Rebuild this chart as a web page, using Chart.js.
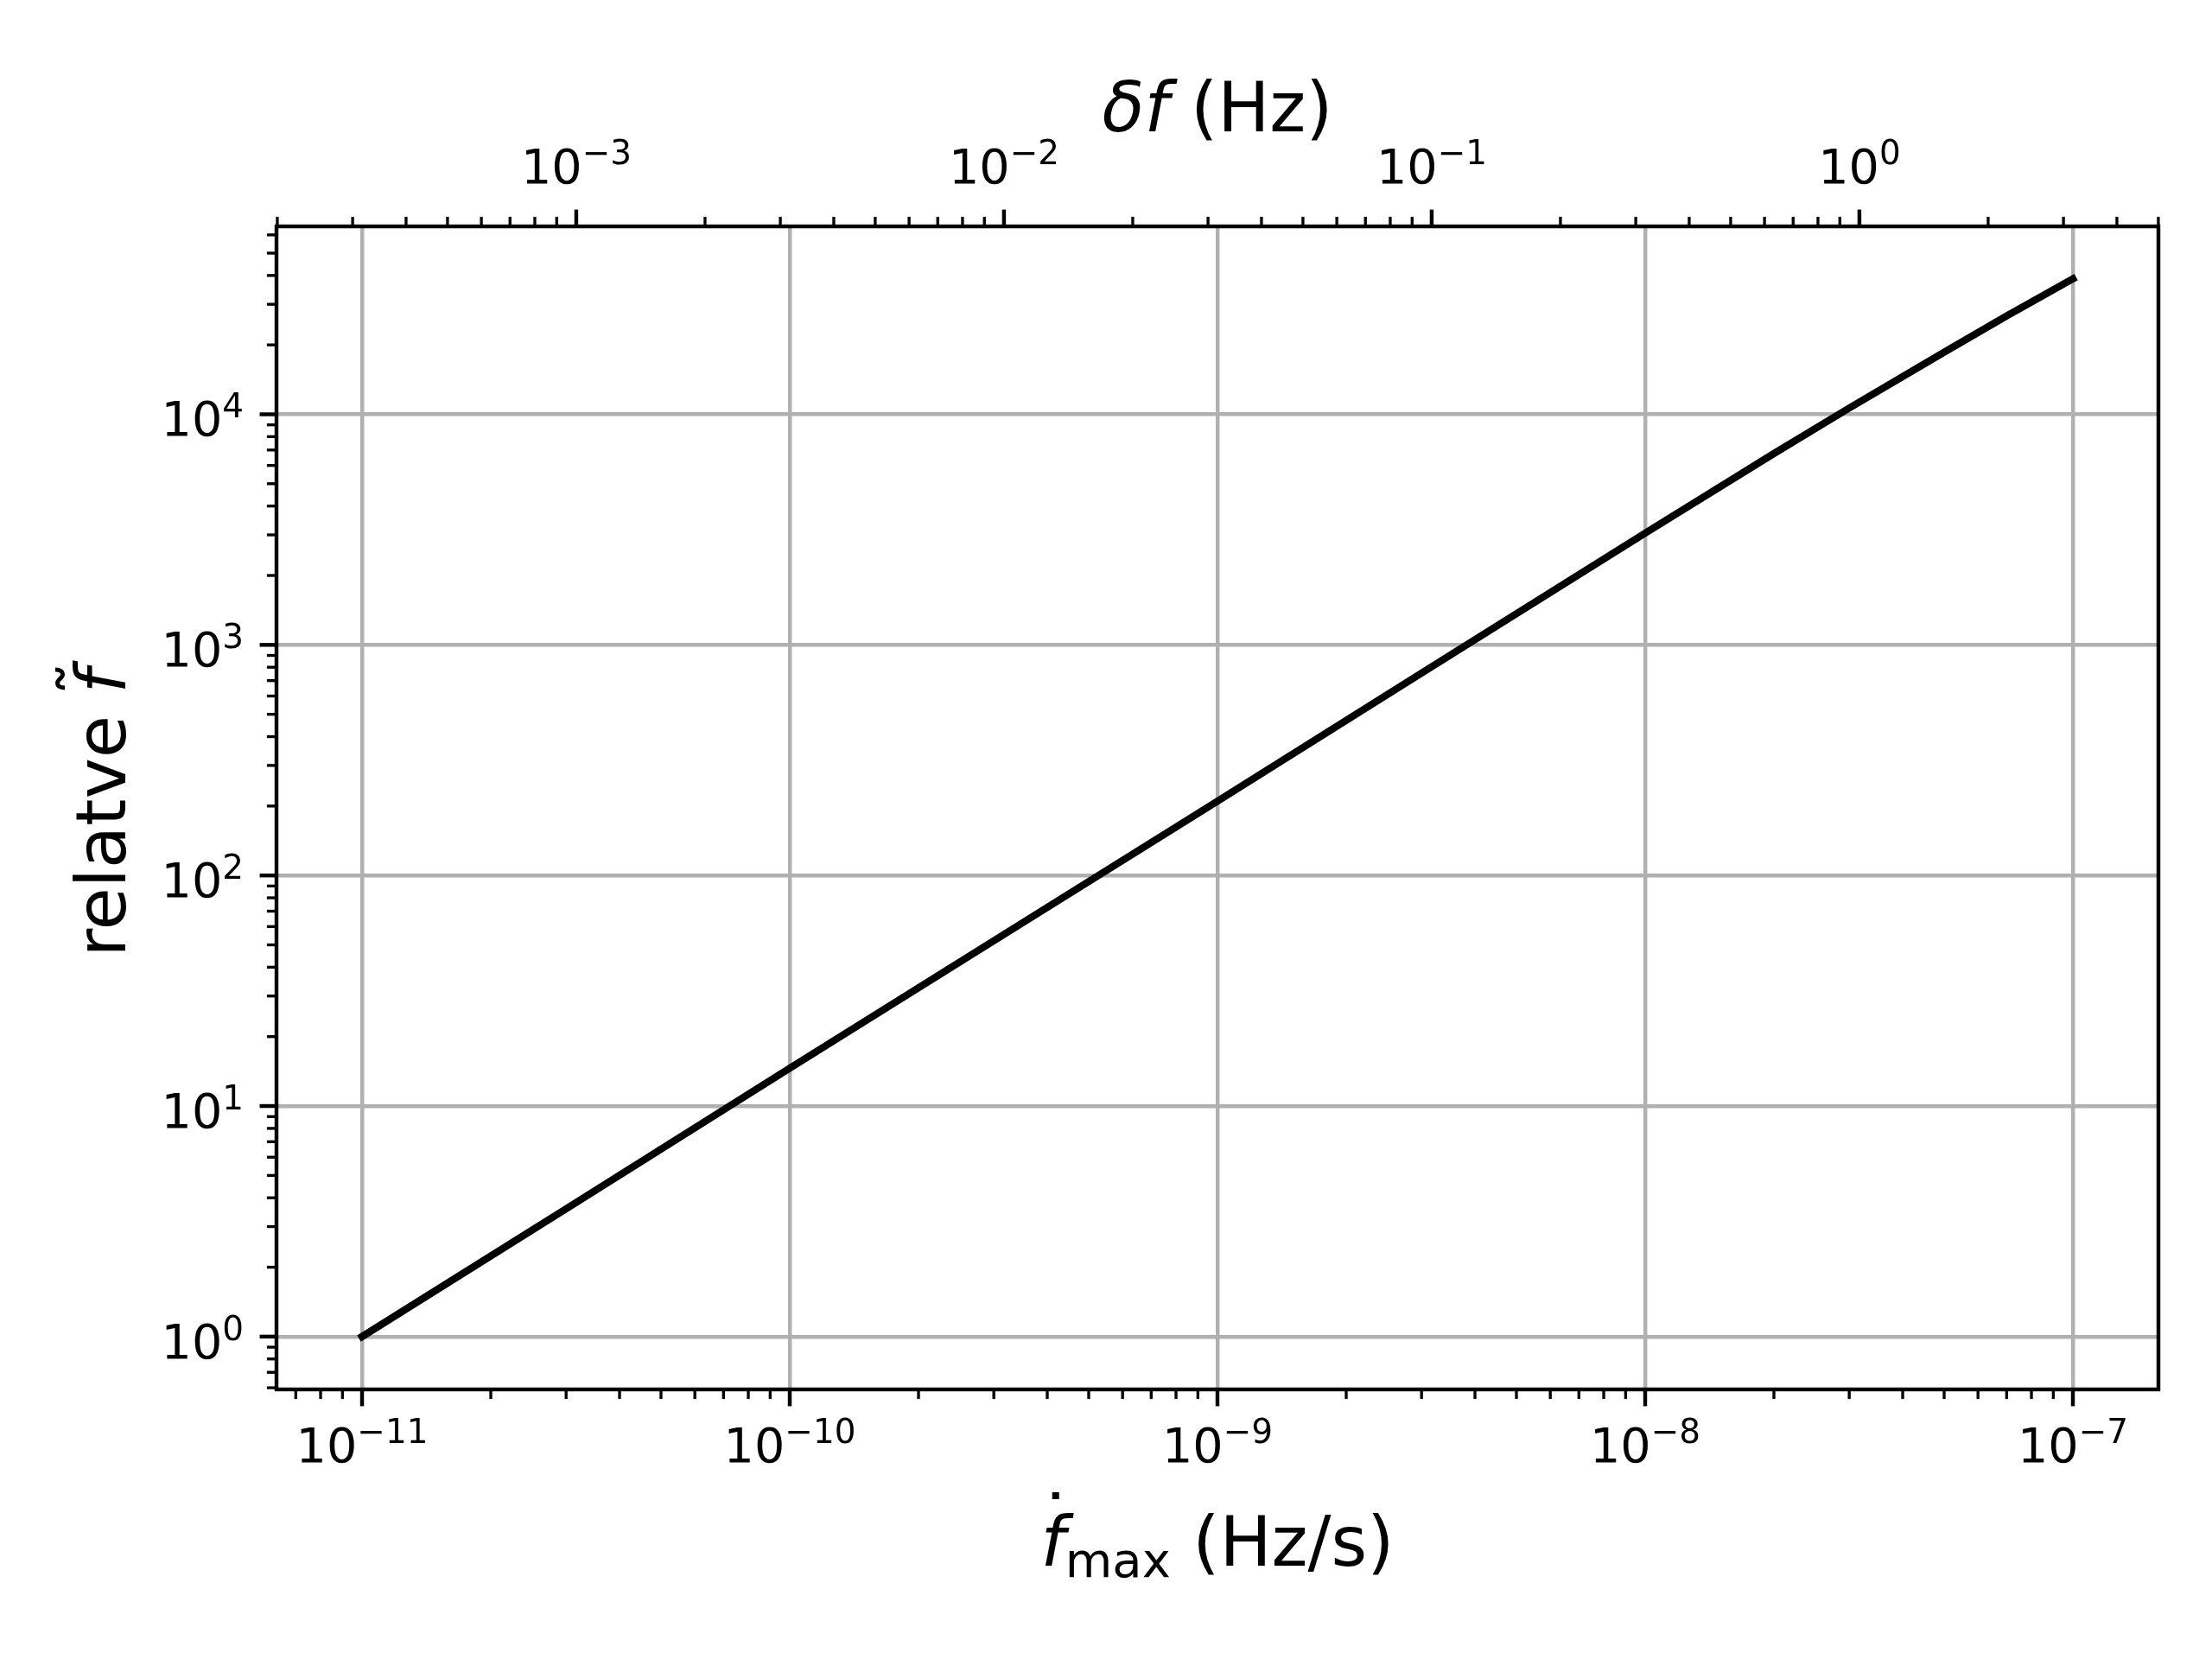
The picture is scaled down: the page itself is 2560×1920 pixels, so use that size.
<!DOCTYPE html>
<html>
<head>
<meta charset="utf-8">
<script src="https://cdn.jsdelivr.net/npm/chart.js@4.4.1/dist/chart.umd.min.js"></script>
<style>
  html, body { margin: 0; padding: 0; background: #fff; }
  canvas { display: block; }
</style>
</head>
<body>
<canvas id="chart" width="2560" height="1920"></canvas>
<script>
// data
const fdotMax = [1e-11, 3e-11, 1e-10, 3e-10, 1e-9, 3e-9, 1e-8, 2e-8, 3e-8, 5e-8, 7e-8, 1e-7];
const relativeF = [1, 3.58, 14.6, 52.1, 210, 755, 3055, 6760, 10640, 18600, 26700, 38700];

// tick label exponents (10^n)
const xTickExp = [-11, -10, -9, -8, -7];
const topTickExp = [-3, -2, -1, 0];
const yTickExp = [0, 1, 2, 3, 4];

// top axis: delta f = fdot * one year
const secondsPerYear = 3.156e7;

const xMin = Math.pow(10, -11.2), xMax = Math.pow(10, -6.8);
const yMin = Math.pow(10, -0.229), yMax = Math.pow(10, 4.815);

const PT = 400 / 72;
const FONT = '"DejaVu Sans", sans-serif';
const tickFont = (55.6) + 'px ' + FONT;
const supFont = (38.9) + 'px ' + FONT;
const titleFont = '80px ' + FONT;
const titleItalic = 'italic 80px ' + FONT;
const subFont = '56px ' + FONT;

const isMajor = v => Math.abs(Math.log10(v) - Math.round(Math.log10(v))) < 1e-6;

function logTicks(scale) {
  const ticks = [];
  const lo = Math.floor(Math.log10(scale.min)), hi = Math.ceil(Math.log10(scale.max));
  for (let n = lo; n <= hi; n++) {
    for (let k = 1; k <= 9; k++) {
      const v = k * Math.pow(10, n);
      if (v >= scale.min * 0.999 && v <= scale.max * 1.001) ticks.push({ value: v });
    }
  }
  scale.ticks = ticks;
}

const expText = e => (e < 0 ? '\u2212' + Math.abs(e) : String(e));

function drawRich(ctx, parts, x, y, align) {
  let total = 0;
  parts.forEach(p => { ctx.font = p.font; p.w = ctx.measureText(p.text).width; total += p.w; });
  let cx = align === 'center' ? x - total / 2 : align === 'right' ? x - total : x;
  parts.forEach(p => {
    ctx.font = p.font;
    ctx.textAlign = 'left';
    ctx.fillText(p.text, cx, y + (p.dy || 0));
    if (p.accent) {
      ctx.font = titleFont;
      const m = ctx.measureText(p.accent);
      ctx.textAlign = 'center';
      ctx.fillText(p.accent, cx + p.w / 2 + (p.accentDx || 0), y - p.lift - m.actualBoundingBoxDescent);
    }
    cx += p.w;
  });
}

const axesDecor = {
  id: 'axesDecor',
  afterDraw(chart) {
    const ctx = chart.ctx;
    const a = chart.chartArea;
    const sx = chart.scales.x, st = chart.scales.x2, sy = chart.scales.y;
    ctx.save();
    ctx.strokeStyle = '#000';
    ctx.fillStyle = '#000';
    ctx.lineCap = 'butt';

    const tick = (x1, y1, x2, y2, major) => {
      ctx.lineWidth = major ? 0.8 * PT : 0.6 * PT;
      ctx.beginPath();
      ctx.moveTo(x1, y1);
      ctx.lineTo(x2, y2);
      ctx.stroke();
    };
    sx.ticks.forEach(t => {
      const px = sx.getPixelForValue(t.value), m = isMajor(t.value);
      tick(px, a.bottom, px, a.bottom + (m ? 3.5 : 2) * PT, m);
    });
    st.ticks.forEach(t => {
      const px = st.getPixelForValue(t.value), m = isMajor(t.value);
      tick(px, a.top, px, a.top - (m ? 3.5 : 2) * PT, m);
    });
    sy.ticks.forEach(t => {
      const py = sy.getPixelForValue(t.value), m = isMajor(t.value);
      tick(a.left, py, a.left - (m ? 3.5 : 2) * PT, py, m);
    });

    // frame
    ctx.lineWidth = 0.8 * PT;
    ctx.strokeRect(a.left, a.top, a.right - a.left, a.bottom - a.top);

    // tick labels
    ctx.textBaseline = 'alphabetic';
    xTickExp.forEach(e => {
      const px = sx.getPixelForValue(Math.pow(10, e));
      drawRich(ctx, [{ text: '10', font: tickFont }, { text: expText(e), font: supFont, dy: -22 }], px, a.bottom + 84, 'center');
    });
    topTickExp.forEach(e => {
      const px = st.getPixelForValue(Math.pow(10, e));
      drawRich(ctx, [{ text: '10', font: tickFont }, { text: expText(e), font: supFont, dy: -22 }], px, a.top - 50, 'center');
    });
    yTickExp.forEach(e => {
      const py = sy.getPixelForValue(Math.pow(10, e));
      drawRich(ctx, [{ text: '10', font: tickFont }, { text: expText(e), font: supFont, dy: -21 }], a.left - 38, py + 25, 'right');
    });

    // axis titles
    const cxMid = (a.left + a.right) / 2;
    drawRich(ctx, [{ text: '\u03b4f', font: titleItalic }, { text: ' (Hz)', font: titleFont }], cxMid, 152, 'center');
    drawRich(ctx, [
      { text: 'f', font: titleItalic, accent: '\u02d9', lift: 77, accentDx: 3 },
      { text: 'max', font: subFont, dy: 13 },
      { text: ' (Hz/s)', font: titleFont }
    ], cxMid, 1812, 'center');

    ctx.translate(145, (a.top + a.bottom) / 2 + 6);
    ctx.rotate(-Math.PI / 2);
    drawRich(ctx, [
      { text: 'relatve ', font: titleFont },
      { text: 'f', font: titleItalic, accent: '\u02dc', lift: 70, accentDx: 3 }
    ], 0, 0, 'center');
    ctx.restore();
  }
};

const gridColor = c => (c.tick && isMajor(c.tick.value) ? '#b0b0b0' : 'rgba(0,0,0,0)');

new Chart(document.getElementById('chart'), {
  type: 'line',
  data: {
    datasets: [{
      data: fdotMax.map((x, i) => ({ x: x, y: relativeF[i] })),
      borderColor: '#000',
      borderWidth: 1.5 * PT,
      borderCapStyle: 'square',
      borderJoinStyle: 'round',
      pointRadius: 0,
      fill: false,
      tension: 0
    }]
  },
  options: {
    responsive: false,
    animation: false,
    devicePixelRatio: 1,
    layout: { padding: { left: 0, right: 62, top: 0, bottom: 0 } },
    plugins: { legend: { display: false }, tooltip: { enabled: false } },
    scales: {
      x: {
        type: 'logarithmic', position: 'bottom', min: xMin, max: xMax, bounds: 'data',
        ticks: { display: false, autoSkip: false },
        grid: { color: gridColor, lineWidth: 0.8 * PT, drawTicks: false },
        border: { display: false },
        afterBuildTicks: logTicks,
        afterFit: s => { s.height = 312; }
      },
      x2: {
        type: 'logarithmic', axis: 'x', position: 'top',
        min: xMin * secondsPerYear, max: xMax * secondsPerYear, bounds: 'data',
        ticks: { display: false, autoSkip: false },
        grid: { display: false },
        border: { display: false },
        afterBuildTicks: logTicks,
        afterFit: s => { s.height = 262; }
      },
      y: {
        type: 'logarithmic', position: 'left', min: yMin, max: yMax, bounds: 'data',
        ticks: { display: false, autoSkip: false },
        grid: { color: gridColor, lineWidth: 0.8 * PT, drawTicks: false },
        border: { display: false },
        afterBuildTicks: logTicks,
        afterFit: s => { s.width = 320; }
      }
    }
  },
  plugins: [axesDecor]
});
</script>
</body>
</html>
